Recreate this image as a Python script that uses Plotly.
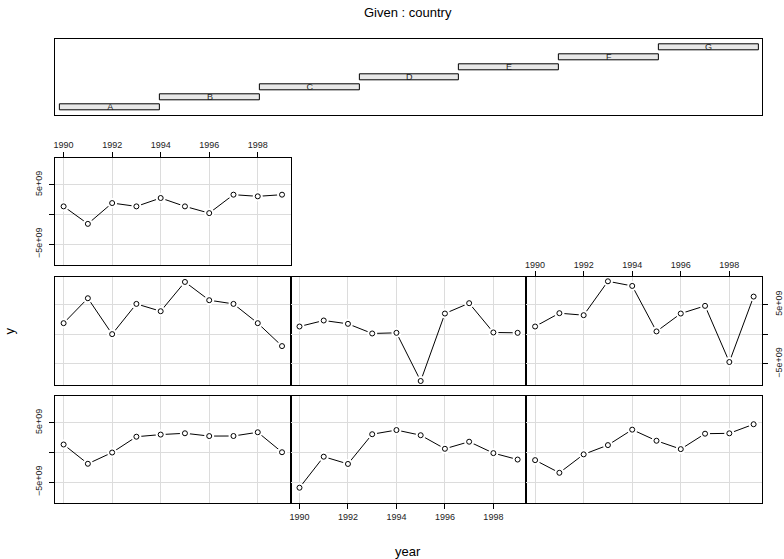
import plotly.graph_objects as go

W, H = 784, 559

years = [1990, 1991, 1992, 1993, 1994, 1995, 1996, 1997, 1998, 1999]
countries = ["A", "B", "C", "D", "E", "F", "G"]
y_A = [1.34e9, -1.90e9, -0.01e9, 2.65e9, 3.01e9, 3.23e9, 2.76e9, 2.77e9, 3.40e9, 0.04e9]
y_B = [-5.93e9, -0.71e9, -1.93e9, 3.07e9, 3.77e9, 2.90e9, 0.62e9, 1.81e9, -0.11e9, -1.19e9]
y_C = [-1.29e9, -3.42e9, -0.32e9, 1.24e9, 3.84e9, 1.97e9, 0.56e9, 3.16e9, 3.22e9, 4.75e9]
y_D = [1.84e9, 6.03e9, 0.00e9, 5.08e9, 3.85e9, 8.77e9, 5.70e9, 5.08e9, 1.84e9, -2.01e9]
y_E = [1.28e9, 2.29e9, 1.73e9, 0.11e9, 0.22e9, -7.88e9, 3.46e9, 5.20e9, 0.28e9, 0.22e9]
y_F = [1.28e9, 3.52e9, 3.18e9, 8.88e9, 8.10e9, 0.45e9, 3.46e9, 4.75e9, -4.69e9, 6.31e9]
y_G = [1.36e9, -1.58e9, 1.92e9, 1.36e9, 2.77e9, 1.36e9, 0.23e9, 3.33e9, 3.05e9, 3.33e9]
series = {"A": y_A, "B": y_B, "C": y_C, "D": y_D, "E": y_E, "F": y_F, "G": y_G}

x_ticks = [1990, 1992, 1994, 1996, 1998]
y_ticks = [-5e9, 0, 5e9]
y_ticktext = ["\u22125e+09", "", "5e+09"]

# given intervals (factor levels)
given_start = [0.5, 1.5, 2.5, 3.5, 4.5, 5.5, 6.5]
given_width = [1, 1, 1, 1, 1, 1, 1]
given_level = [1, 2, 3, 4, 5, 6, 7]

# ranges (R style 4% extension)
ymin = min(min(v) for v in series.values())
ymax = max(max(v) for v in series.values())
yext = 0.04 * (ymax - ymin)
yr = [ymin - yext, ymax + yext]
xext = 0.04 * (years[-1] - years[0])
xr = [years[0] - xext, years[-1] + xext]

FONT = "Liberation Sans, Arial, Helvetica, sans-serif"
TICKC = "#222222"

cols = [(54, 290.5), (290.5, 526.7), (526.7, 763.3)]
rows = [(395.7, 503.3), (277.3, 385.0), (157.7, 265.3)]  # bottom, middle, top

def xd(a, b):
    return [a / W, b / W]

def yd(top, bot):
    return [1 - bot / H, 1 - top / H]

placement = {"A": (0, 0), "B": (0, 1), "C": (0, 2),
             "D": (1, 0), "E": (1, 1), "F": (1, 2),
             "G": (2, 0)}
xlab = {"B": "bottom", "F": "top", "G": "top"}
ylab = {"A": "left", "G": "left", "F": "right"}

fig = go.Figure()
layout = {}

for i, c in enumerate(countries):
    n = i + 1
    r, cc = placement[c]
    xa = "xaxis" if n == 1 else f"xaxis{n}"
    ya = "yaxis" if n == 1 else f"yaxis{n}"
    xref = "x" if n == 1 else f"x{n}"
    yref = "y" if n == 1 else f"y{n}"
    xside = xlab.get(c)
    yside = ylab.get(c)
    layout[xa] = dict(
        domain=xd(*cols[cc]), range=xr, anchor=yref,
        tickvals=x_ticks, ticktext=[str(t) for t in x_ticks],
        showticklabels=xside is not None,
        side=xside if xside else "bottom",
        ticks="outside" if xside else "", ticklen=5, tickcolor="black",
        tickfont=dict(size=9, color=TICKC, family=FONT),
        showgrid=True, gridcolor="#dcdcdc", gridwidth=1,
        showline=True, linecolor="black", linewidth=1, mirror=True,
        zeroline=False, fixedrange=True,
    )
    layout[ya] = dict(
        domain=yd(*rows[r]), range=yr, anchor=xref,
        tickvals=y_ticks, ticktext=y_ticktext,
        showticklabels=yside is not None,
        side=yside if yside else "left",
        ticks="outside" if yside else "", ticklen=5, tickcolor="black",
        tickangle=-90, ticklabelstandoff=3,
        tickfont=dict(size=9, color=TICKC, family=FONT),
        showgrid=True, gridcolor="#dcdcdc", gridwidth=1,
        showline=True, linecolor="black", linewidth=1, mirror=True,
        zeroline=False, fixedrange=True,
    )
    vals = series[c]
    fig.add_trace(go.Scatter(x=years, y=vals, mode="lines",
                             line=dict(color="black", width=1),
                             xaxis=xref, yaxis=yref, showlegend=False,
                             hoverinfo="skip"))
    fig.add_trace(go.Scatter(x=years, y=vals, mode="markers",
                             marker=dict(size=10, color="white", line=dict(width=0)),
                             xaxis=xref, yaxis=yref, showlegend=False,
                             hoverinfo="skip"))
    fig.add_trace(go.Scatter(x=years, y=vals, mode="markers",
                             marker=dict(size=5, color="white",
                                         line=dict(color="black", width=1)),
                             xaxis=xref, yaxis=yref, showlegend=False))

# given panel
layout["xaxis8"] = dict(domain=xd(54, 763.3), range=[0.445, 7.54], anchor="y8",
                        showticklabels=False, ticks="", showgrid=False,
                        showline=True, linecolor="black", linewidth=1, mirror=True,
                        zeroline=False, fixedrange=True)
layout["yaxis8"] = dict(domain=yd(39.3, 115.3), range=[0.24, 7.84], anchor="x8",
                        showticklabels=False, ticks="", showgrid=False,
                        showline=True, linecolor="black", linewidth=1, mirror=True,
                        zeroline=False, fixedrange=True)
fig.add_trace(go.Bar(y=given_level, x=given_width, base=given_start, orientation="h",
                     width=0.6, marker=dict(color="#e8e8e8", line=dict(color="black", width=1)),
                     xaxis="x8", yaxis="y8", showlegend=False, hoverinfo="skip"))
fig.add_trace(go.Scatter(x=[s + w / 2 for s, w in zip(given_start, given_width)],
                         y=given_level, mode="text", text=countries,
                         textfont=dict(size=9, color=TICKC, family=FONT),
                         xaxis="x8", yaxis="y8", showlegend=False, hoverinfo="skip"))

layout["annotations"] = [
    dict(text="Given : country", x=408 / W, y=1 - 12 / H, xref="paper", yref="paper",
         showarrow=False, font=dict(size=13, color="black", family=FONT),
         xanchor="center", yanchor="middle"),
    dict(text="year", x=408.3 / W, y=1 - 551 / H, xref="paper", yref="paper",
         showarrow=False, font=dict(size=13, color="black", family=FONT),
         xanchor="center", yanchor="middle"),
    dict(text="y", x=9 / W, y=1 - 330.5 / H, xref="paper", yref="paper",
         showarrow=False, textangle=-90, font=dict(size=13, color="black", family=FONT),
         xanchor="center", yanchor="middle"),
]

fig.update_layout(width=W, height=H, margin=dict(l=0, r=0, t=0, b=0),
                  plot_bgcolor="white", paper_bgcolor="white",
                  bargap=0, **layout)

fig.write_html("out.html", config={"displayModeBar": False},
               post_script="document.body.style.margin='0';document.body.style.padding='0';document.body.style.overflow='hidden';")
